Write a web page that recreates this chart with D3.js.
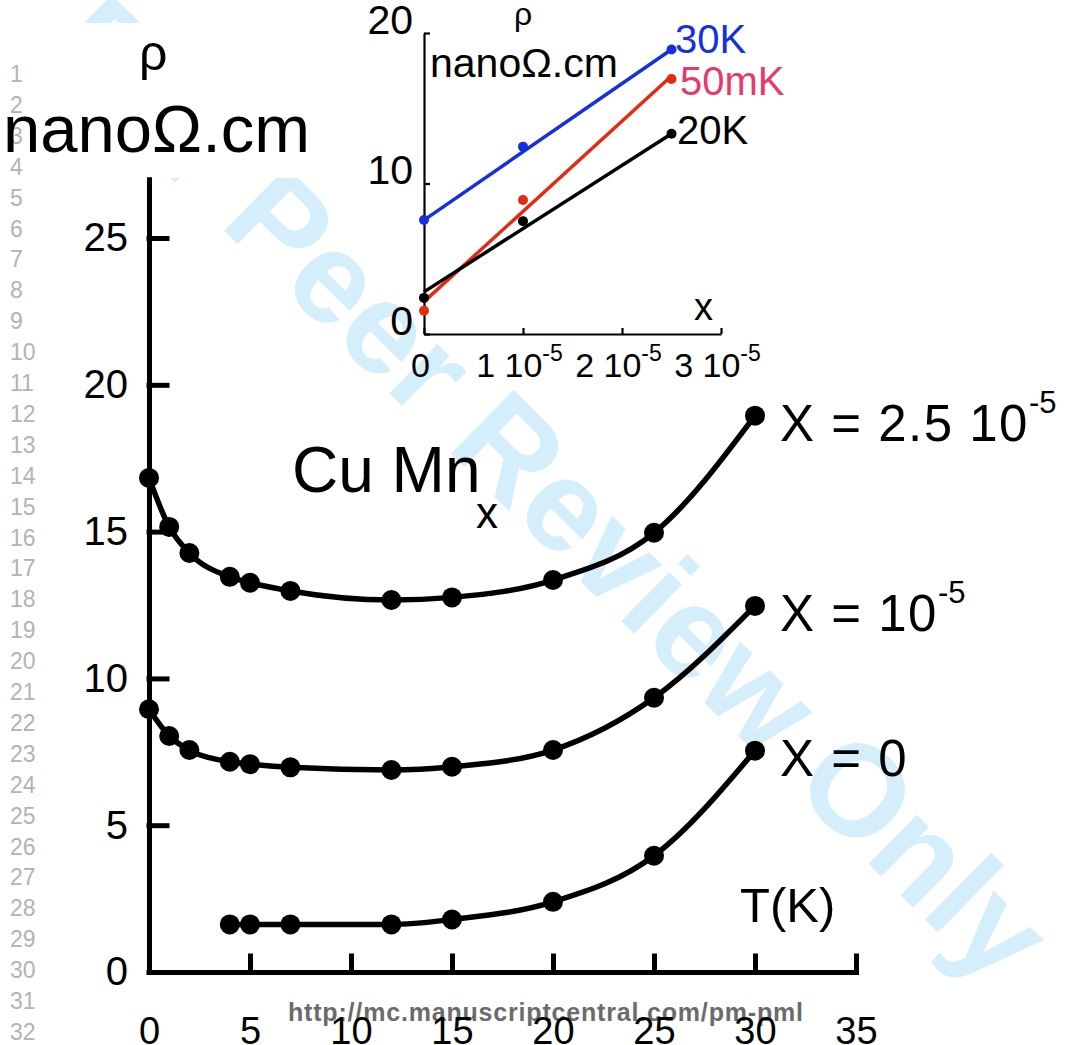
<!DOCTYPE html>
<html>
<head>
<meta charset="utf-8">
<script src="https://cdn.jsdelivr.net/npm/d3@7"></script>
<style>
body { margin: 0; background: #fff; }
svg text { font-family: "Liberation Sans", Arial, sans-serif; }
</style>
</head>
<body>
<svg id="chart" width="1070" height="1045"></svg>
<script>
// main plot: rho vs T for three Mn concentrations
var temps = [0, 1, 2, 4, 5, 7, 12, 15, 20, 25, 30];
var rhoHigh = [16.83, 15.16, 14.27, 13.46, 13.26, 12.98, 12.67, 12.76, 13.35, 14.96, 18.95];
var rhoMid = [8.95, 8.04, 7.56, 7.16, 7.08, 6.97, 6.88, 6.99, 7.56, 9.34, 12.47];
var tempsPure = [4, 5, 7, 12, 15, 20, 25, 30];
var rhoPure = [1.62, 1.62, 1.62, 1.62, 1.79, 2.39, 3.96, 7.54];
var xTicks = [0, 5, 10, 15, 20, 25, 30, 35];
var yTicks = [0, 5, 10, 15, 20, 25];
var curveLabels = ["X = 2.5 10", "X = 10", "X = 0"];
var curveSups = ["-5", "-5", ""];

// inset: rho vs concentration (units of 1e-5)
var conc = [0, 1, 2.5];
var rho30K = [7.57, 12.45, 18.9];
var rho50mK = [1.55, 8.9, 16.94];
var rho20K = [2.4, 7.5, 13.3];
var fitEnds = [0, 2.5];
var fit30K = [7.57, 18.9];
var fit50mK = [2.15, 17.14];
var fit20K = [2.8, 13.3];
var insetXTicks = [0, 1, 2, 3];
var insetYTicks = [0, 10, 20];
var insetNames = ["30K", "50mK", "20K"];

var svg = d3.select("#chart");

// watermark + page furniture
svg.append("text")
	.attr("transform", "translate(551,489) rotate(44.5)")
	.attr("text-anchor", "middle")
	.attr("dominant-baseline", "central")
	.style("font-size", "130px")
	.style("font-weight", "bold")
	.style("fill", "#d4eefb")
	.text("For Peer Review Only");

// white box behind the axis title hides part of the watermark
svg.append("rect")
	.attr("x", 0).attr("y", 23)
	.attr("width", 330).attr("height", 155)
	.style("fill", "#fff");

svg.append("g").selectAll("text")
	.data(d3.range(1, 33))
	.join("text")
		.attr("x", 10)
		.attr("y", function(d) { return 82 + (d - 1) * 30.9; })
		.style("font-size", "23px")
		.style("fill", "#b3b3b3")
		.text(function(d) { return d; });

svg.append("text")
	.attr("x", 288)
	.attr("y", 1021)
	.attr("textLength", 515)
	.style("font-size", "25px")
	.style("font-weight", "bold")
	.style("fill", "#6b6b6b")
	.text("http://mc.manuscriptcentral.com/pm-pml");

// ---- main chart ----
var x = d3.scaleLinear().domain([0, 35]).range([149, 856]);
var y = d3.scaleLinear().domain([0, 27]).range([972, 179.3]);

var xAxis = svg.append("g")
	.attr("transform", "translate(0,972)")
	.call(d3.axisBottom(x).tickValues(xTicks).tickSizeInner(-16).tickSizeOuter(0).tickPadding(45));
var yAxis = svg.append("g")
	.attr("transform", "translate(149,0)")
	.call(d3.axisLeft(y).tickValues(yTicks).tickSizeInner(-18).tickSizeOuter(0).tickPadding(21));

[xAxis, yAxis].forEach(function(a) {
	a.selectAll("path, line").style("stroke", "#000").style("stroke-width", 5).style("stroke-linecap", "square");
	a.selectAll("text").style("fill", "#000").style("font-family", "'Liberation Sans', Arial, sans-serif");
});
xAxis.selectAll("text").style("font-size", "38px");
yAxis.selectAll("text").style("font-size", "40px");

var line = d3.line()
	.x(function(d) { return x(d[0]); })
	.y(function(d) { return y(d[1]); })
	.curve(d3.curveMonotoneX);

var series = [d3.zip(temps, rhoHigh), d3.zip(temps, rhoMid), d3.zip(tempsPure, rhoPure)];

series.forEach(function(s, i) {
	svg.append("path")
		.datum(s)
		.attr("d", line)
		.style("fill", "none")
		.style("stroke", "#000")
		.style("stroke-width", 5.5);
	svg.append("g").selectAll("circle")
		.data(s)
		.join("circle")
			.attr("cx", function(d) { return x(d[0]); })
			.attr("cy", function(d) { return y(d[1]); })
			.attr("r", 10)
			.style("fill", "#000");
	var last = s[s.length - 1];
	var t = svg.append("text")
		.attr("x", x(last[0]) + 25)
		.attr("y", y(last[1]) + 25)
		.style("font-size", "51px")
		.style("letter-spacing", "1.5px");
	t.append("tspan").text(curveLabels[i]);
	if (curveSups[i]) {
		t.append("tspan").attr("dy", -28).style("font-size", "31px").style("letter-spacing", "0px").text(curveSups[i]);
	}
});

svg.append("text").attr("x", 292).attr("y", 492).style("font-size", "64px").text("Cu Mn");
svg.append("text").attr("x", 476).attr("y", 528).style("font-size", "44px").text("x");
svg.append("text").attr("x", 740).attr("y", 922).style("font-size", "49px").text("T(K)");
svg.append("text").attr("x", 139).attr("y", 70).style("font-size", "50px").text("ρ");
svg.append("text").attr("x", 3).attr("y", 152).style("font-size", "67px").text("nanoΩ.cm");

// ---- inset ----
var ix = d3.scaleLinear().domain([0, 3]).range([424, 721]);
var iy = d3.scaleLinear().domain([0, 20]).range([334, 33]);

var ixAxis = svg.append("g")
	.attr("transform", "translate(0,334)")
	.call(d3.axisBottom(ix).tickValues(insetXTicks).tickSizeInner(-6).tickSizeOuter(0).tickPadding(43));
var iyAxis = svg.append("g")
	.attr("transform", "translate(424,0)")
	.call(d3.axisLeft(iy).tickValues(insetYTicks).tickSizeInner(-6).tickSizeOuter(0).tickPadding(11));

[ixAxis, iyAxis].forEach(function(a) {
	a.selectAll("path, line").style("stroke", "#000").style("stroke-width", 2.2);
	a.selectAll("text").style("fill", "#000").attr("dy", "0").style("font-family", "'Liberation Sans', Arial, sans-serif");
});
iyAxis.selectAll("text").style("font-size", "41px");
ixAxis.selectAll("text")
	.attr("x", -4)
	.style("font-size", "34px")
	.each(function(d) {
		var el = d3.select(this).text(null);
		if (d === 0) { el.text("0"); return; }
		el.append("tspan").text(d + " 10");
		el.append("tspan").attr("dy", -16).style("font-size", "23px").text("-5");
	});

var insetColors = ["#1431dc", "#e42a12", "#000"];
var insetRho = [rho30K, rho50mK, rho20K];
var insetFit = [fit30K, fit50mK, fit20K];
var labelColors = ["#1431dc", "#e83a6a", "#000"];
var labelY = [53, 95, 144];
var labelX = [675, 680, 677];

var iline = d3.line()
	.x(function(d) { return ix(d[0]); })
	.y(function(d) { return iy(d[1]); });

insetRho.forEach(function(r, i) {
	svg.append("path")
		.datum(d3.zip(fitEnds, insetFit[i]))
		.attr("d", iline)
		.style("fill", "none")
		.style("stroke", insetColors[i])
		.style("stroke-width", 3.5);
	svg.append("g").selectAll("circle")
		.data(d3.zip(conc, r))
		.join("circle")
			.attr("cx", function(d) { return ix(d[0]); })
			.attr("cy", function(d) { return iy(d[1]); })
			.attr("r", 5)
			.style("fill", insetColors[i]);
	svg.append("text")
		.attr("x", labelX[i])
		.attr("y", labelY[i])
		.style("font-size", "40px")
		.style("fill", labelColors[i])
		.text(insetNames[i]);
});

svg.append("text").attr("x", 514).attr("y", 25).style("font-size", "32px").text("ρ");
svg.append("text").attr("x", 430).attr("y", 77).style("font-size", "41px").text("nanoΩ.cm");
svg.append("text").attr("x", 694).attr("y", 320).style("font-size", "38px").text("x");
</script>
</body>
</html>
